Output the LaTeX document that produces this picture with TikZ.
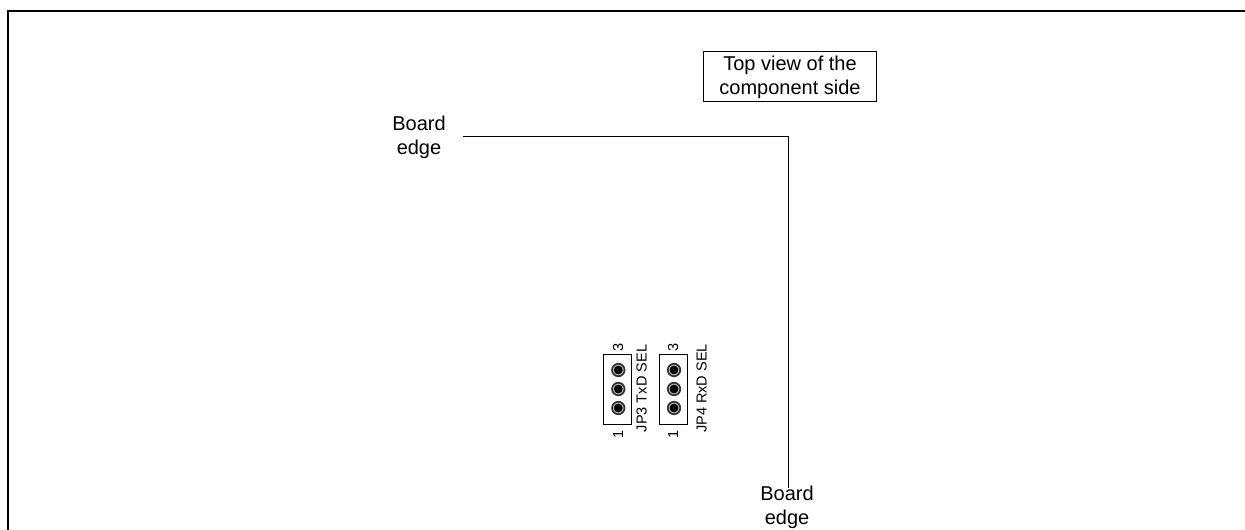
\documentclass[tikz,border=0pt]{standalone}
\usepackage{fontspec}
\setmainfont{Liberation Sans}
\tikzset{
  x=0.75pt,y=-0.75pt,
  ln/.style={draw=black,line width=0.75pt},
  lab/.style={font=\fontsize{15}{18.2}\selectfont,align=center,inner sep=0pt},
  small/.style={font=\fontsize{10.9}{12}\selectfont,inner sep=0pt,rotate=90},
  pin/.style={circle,draw=black!80,fill=black!25,line width=1.3pt,minimum size=9.4pt,inner sep=0pt},
  pinc/.style={circle,fill=black,minimum size=6.6pt,inner sep=0pt},
  hdr/.style={draw=black,line width=0.7pt,minimum width=21.5pt,minimum height=52.5pt,inner sep=0pt}
}
\begin{document}
\begin{tikzpicture}
\useasboundingbox (0,0) rectangle (1245,530);
\coordinate (fa) at (8,530);
\coordinate (fb) at (8,11);
\coordinate (fc) at (1245,11);
\draw[line width=1pt] (fa) -- (fb) -- (fc);
\node[draw=black,line width=0.7pt,minimum width=129.5pt,minimum height=37.5pt,inner sep=0pt,lab] (title) at (790,76) {};
\node[lab] (tt) at (790,77) {Top view of the\\component side};
\node[lab] (e1) at (419,137) {Board\\edge};
\node[lab] (e2) at (787,507.5) {Board\\edge};
\coordinate (c1) at (463,136.5);
\coordinate (c2) at (788,136.5);
\coordinate (c3) at (788,488);
\draw[ln] (c1) -- (c2) -- (c3);
\node[hdr] (h1) at (617.5,389) {};
\node[hdr] (h2) at (673.5,389) {};
\foreach \n/\y in {a/370,b/389,c/408}{
  \node[pin] (p1\n) at (618.3,\y) {};
  \node[pinc] (q1\n) at (618.3,\y) {};
  \node[pin] (p2\n) at (674,\y) {};
  \node[pinc] (q2\n) at (674,\y) {};
}
\node[small] (t3a) at (618,347) {3};
\node[small] (t1a) at (618,434) {1};
\node[small] (t3b) at (673,347) {3};
\node[small] (t1b) at (673,434) {1};
\node[small] (s1) at (641.5,388.5) {JP3 TxD SEL};
\node[small] (s2) at (701.5,388.5) {JP4 RxD SEL};
\end{tikzpicture}
\end{document}
